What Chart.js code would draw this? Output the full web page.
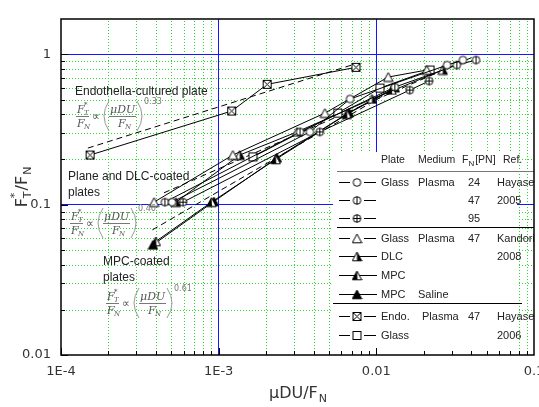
<!DOCTYPE html>
<html>
<head>
<meta charset="utf-8">
<script src="https://cdn.jsdelivr.net/npm/chart.js@4"></script>
<style>
  body { margin: 0; background: #fff; }
  canvas { display: block; }
</style>
</head>
<body>
<canvas id="chart" width="539" height="407"></canvas>
<script>
// axis ticks
const xTicks = [1e-4, 1e-3, 0.01, 0.1];
const xTickLabels = ['1E-4', '1E-3', '0.01', '0.1'];
const yTicks = [0.01, 0.1, 1];
const yTickLabels = ['0.01', '0.1', '1'];

// Glass, Plasma, Hayase 2005 (FN = 24, 47, 95 pN)
const glass24X = [5.06e-4, 3.79e-3, 6.81e-3, 0.0281, 0.0354];
const glass24Y = [0.104, 0.305, 0.505, 0.849, 0.917];
const glass47X = [4.56e-4, 3.28e-3, 0.0131, 0.0324, 0.0429];
const glass47Y = [0.104, 0.305, 0.606, 0.849, 0.917];
const glass95X = [5.94e-4, 4.38e-3, 0.0163, 0.0216];
const glass95Y = [0.104, 0.305, 0.579, 0.665];

// Kandori 2008
const kGlassX = [3.89e-4, 1.23e-3, 4.72e-3, 0.0119, 0.0209];
const kGlassY = [0.104, 0.214, 0.407, 0.707, 0.787];
const kDlcX = [5.36e-4, 1.36e-3, 3.14e-3, 9.38e-3, 0.0264];
const kDlcY = [0.104, 0.214, 0.305, 0.505, 0.787];
const kMpcX = [4.0e-4, 9.0e-4, 2.3e-3, 6.5e-3, 0.0125];
const kMpcY = [0.057, 0.104, 0.20, 0.40, 0.58];
const kSalineX = [3.83e-4, 9.33e-4, 2.34e-3, 6.7e-3, 0.0131];
const kSalineY = [0.054, 0.105, 0.205, 0.41, 0.60];

// Hayase 2006
const endoX = [1.53e-4, 1.21e-3, 2.03e-3, 7.43e-3];
const endoY = [0.214, 0.42, 0.632, 0.82];
const glass06X = [1.65e-3, 5.70e-3, 0.01055, 0.0219];
const glass06Y = [0.208, 0.407, 0.597, 0.787];

// power-law guide lines
const fitEndoX = [1.48e-4, 7.5e-3];
const fitEndoY = [0.238, 0.87];
const fitPlaneX = [4.5e-4, 0.04];
const fitPlaneY = [0.12, 0.95];
const fitMpcX = [3.8e-4, 0.0135];
const fitMpcY = [0.068, 0.60];

// legend table
const legendHeader = ['Plate', 'Medium', 'F', 'Ref.'];
const legendPlate = ['Glass', '', '', 'Glass', 'DLC', 'MPC', 'MPC', 'Endo.', 'Glass'];
const legendMedium = ['Plasma', '', '', 'Plasma', '', '', 'Saline', 'Plasma', ''];
const legendFn = ['24', '47', '95', '47', '', '', '', '47', ''];
const legendRef = ['Hayase', '2005', '', 'Kandori', '2008', '', '', 'Hayase', '2006'];
const legendMarker = ['circle', 'circleBar', 'circlePlus', 'tri', 'triR', 'triL', 'triFull', 'squareX', 'square'];

// annotations
const noteEndo = ['Endothella-cultured plate'];
const notePlane = ['Plane and DLC-coated', 'plates'];
const noteMpc = ['MPC-coated', 'plates'];
const exponents = ['0.33', '0.46', '0.61'];

function marker(kind) {
  const c = document.createElement('canvas');
  c.width = 11; c.height = 11;
  const g = c.getContext('2d');
  g.strokeStyle = '#000'; g.fillStyle = '#fff'; g.lineWidth = 1;
  if (kind.startsWith('circle')) {
    g.beginPath(); g.arc(5.5, 5.5, 3.8, 0, Math.PI * 2); g.fill(); g.stroke();
    if (kind !== 'circle') { g.beginPath(); g.moveTo(5.5, 1.7); g.lineTo(5.5, 9.3); g.stroke(); }
    if (kind === 'circlePlus') { g.beginPath(); g.moveTo(1.7, 5.5); g.lineTo(9.3, 5.5); g.stroke(); }
  } else if (kind.startsWith('tri')) {
    g.beginPath(); g.moveTo(5.5, 1); g.lineTo(10.2, 9.8); g.lineTo(0.8, 9.8); g.closePath();
    g.fillStyle = kind === 'triFull' ? '#000' : '#fff';
    g.fill(); g.stroke();
    g.fillStyle = '#000';
    if (kind === 'triR') { g.beginPath(); g.moveTo(5.5, 1); g.lineTo(10.2, 9.8); g.lineTo(5.5, 9.8); g.fill(); }
    if (kind === 'triL') { g.beginPath(); g.moveTo(5.5, 1); g.lineTo(0.8, 9.8); g.lineTo(6, 9.8); g.fill(); }
  } else {
    g.fillRect(1.5, 1.5, 8, 8); g.strokeRect(1.5, 1.5, 8, 8);
    if (kind === 'squareX') {
      g.beginPath(); g.moveTo(1.5, 1.5); g.lineTo(9.5, 9.5); g.moveTo(9.5, 1.5); g.lineTo(1.5, 9.5); g.stroke();
    }
  }
  return c;
}

const markers = {};
legendMarker.forEach(k => markers[k] = marker(k));

function pts(xs, ys) { return xs.map((x, i) => ({ x: x, y: ys[i] })); }

function series(xs, ys, kind) {
  return { data: pts(xs, ys), showLine: true, borderColor: '#000', borderWidth: 1,
           pointStyle: markers[kind], pointRadius: 4 };
}
function fit(xs, ys) {
  return { data: pts(xs, ys), showLine: true, borderColor: '#000', borderWidth: 1,
           borderDash: [6, 4], pointRadius: 0 };
}

const datasets = [
  series(glass24X, glass24Y, 'circle'),
  series(glass47X, glass47Y, 'circleBar'),
  series(glass95X, glass95Y, 'circlePlus'),
  series(kGlassX, kGlassY, 'tri'),
  series(kDlcX, kDlcY, 'triR'),
  series(kMpcX, kMpcY, 'triL'),
  series(kSalineX, kSalineY, 'triFull'),
  series(endoX, endoY, 'squareX'),
  series(glass06X, glass06Y, 'square'),
  fit(fitEndoX, fitEndoY),
  fit(fitPlaneX, fitPlaneY),
  fit(fitMpcX, fitMpcY)
];

// snap 1px coloured lines to even pixels so they keep their colour
function even(p) { return 2 * Math.round(p / 2); }

// grid lines behind the data, drawn as 1px rects
const gridPlugin = {
  id: 'grid',
  beforeDatasetsDraw(chart) {
    const { ctx, chartArea: a, scales: { x, y } } = chart;
    const top = Math.round(a.top), bot = Math.round(a.bottom);
    const left = Math.round(a.left), right = Math.round(a.right);
    ctx.save();
    ctx.fillStyle = '#2bd82b';
    for (let d = 1e-4; d < 0.1; d *= 10) {
      for (let m = 2; m < 10; m++) {
        const px = Math.round(x.getPixelForValue(d * m));
        for (let py = top + 2; py < bot; py += 3) ctx.fillRect(px, py, 1, 1);
      }
    }
    for (let d = 0.01; d < 1; d *= 10) {
      for (let m = 2; m < 10; m++) {
        const py = Math.round(y.getPixelForValue(d * m));
        for (let px = left + 2; px < right; px += 3) ctx.fillRect(px, py, 1, 1);
      }
    }
    ctx.fillStyle = '#1515ff';
    xTicks.slice(1, -1).forEach(v => {
      const px = even(x.getPixelForValue(v));
      ctx.fillRect(px, top, 1, bot - top);
    });
    yTicks.slice(1).forEach(v => {
      const py = even(y.getPixelForValue(v));
      ctx.fillRect(left, py, right - left, 1);
    });
    ctx.restore();
  }
};

function drawFormula(ctx, x0, yc, exp) {
  ctx.save();
  ctx.fillStyle = '#555';
  ctx.strokeStyle = '#555';
  ctx.lineWidth = 0.8;
  ctx.textAlign = 'left';
  ctx.textBaseline = 'alphabetic';
  const big = 'italic 11px "DejaVu Serif"';
  const small = 'italic 7px "DejaVu Serif"';
  // F*_T / F_N
  ctx.font = big; ctx.fillText('F', x0, yc - 3); ctx.fillText('F', x0, yc + 11);
  ctx.font = small; ctx.fillText('T', x0 + 7, yc - 1); ctx.fillText('*', x0 + 7, yc - 9); ctx.fillText('N', x0 + 7, yc + 13);
  ctx.beginPath(); ctx.moveTo(x0 - 1, yc + 0.5); ctx.lineTo(x0 + 12, yc + 0.5); ctx.stroke();
  ctx.font = '11px "DejaVu Sans"'; ctx.fillText('\u221d', x0 + 15, yc + 4);
  // parentheses
  ctx.strokeStyle = '#999'; ctx.lineWidth = 1;
  ctx.beginPath(); ctx.moveTo(x0 + 32, yc - 15); ctx.quadraticCurveTo(x0 + 22, yc, x0 + 32, yc + 15); ctx.stroke();
  ctx.beginPath(); ctx.moveTo(x0 + 60, yc - 15); ctx.quadraticCurveTo(x0 + 70, yc, x0 + 60, yc + 15); ctx.stroke();
  // muDU / F_N
  ctx.strokeStyle = '#555'; ctx.lineWidth = 0.8;
  ctx.font = big; ctx.fillText('\u03bcDU', x0 + 33, yc - 3); ctx.fillText('F', x0 + 41, yc + 11);
  ctx.font = small; ctx.fillText('N', x0 + 48, yc + 13);
  ctx.beginPath(); ctx.moveTo(x0 + 32, yc + 0.5); ctx.lineTo(x0 + 59, yc + 0.5); ctx.stroke();
  ctx.fillStyle = '#777'; ctx.font = '8px "DejaVu Sans"';
  ctx.fillText(exp, x0 + 67, yc - 12);
  ctx.restore();
}

const overlayPlugin = {
  id: 'overlay',
  afterDatasetsDraw(chart) {
    const { ctx, chartArea: a, scales: { x, y } } = chart;
    ctx.save();

    // legend box
    ctx.fillStyle = '#fff';
    ctx.fillRect(333, 152, 184, a.bottom - 152);
    ctx.save();
    ctx.beginPath(); ctx.rect(a.left, a.top, a.right - a.left, a.bottom - a.top); ctx.clip();
    ctx.fillStyle = '#222';
    ctx.font = '10.5px "Liberation Sans"';
    ctx.textBaseline = 'middle';
    ctx.textAlign = 'left';
    ctx.fillText(legendHeader[0], 381, 160);
    ctx.fillText(legendHeader[1], 418, 160);
    ctx.fillText(legendHeader[2], 462, 160);
    const fw = ctx.measureText('F').width;
    ctx.font = '8px "Liberation Sans"';
    ctx.fillText('N', 462 + fw, 164);
    const nw = ctx.measureText('N').width;
    ctx.font = '10.5px "Liberation Sans"';
    ctx.fillText('[PN]', 463 + fw + nw, 160);
    ctx.fillText(legendHeader[3], 503, 160);

    ctx.fillStyle = '#777';
    ctx.fillRect(337, 171, a.right - 337, 1);
    ctx.fillStyle = '#000';
    ctx.fillRect(337, 227, a.right - 337, 1);
    ctx.fillRect(333, 303, 189, 1);

    const rowY = [182, 200, 218, 238, 256, 275, 294, 316, 335];
    ctx.font = '11px "Liberation Sans"';
    legendMarker.forEach((k, i) => {
      const ry = rowY[i];
      ctx.fillStyle = '#000';
      if (k.startsWith('tri') && k !== 'tri') {
        ctx.fillRect(339, ry, 38, 1);
      } else {
        ctx.fillRect(339, ry, 11, 1);
        ctx.fillRect(364, ry, 12, 1);
      }
      ctx.drawImage(markers[k], 357 - 5.5, ry - 5);
      ctx.fillStyle = '#222';
      ctx.fillText(legendPlate[i], 381, ry + 1);
      ctx.fillText(legendMedium[i], i === 7 ? 422 : 418, ry + 1);
      ctx.fillText(legendFn[i], 468, ry + 1);
      ctx.fillText(legendRef[i], 497, ry + 1);
    });
    ctx.restore();

    // annotations
    ctx.fillStyle = '#222';
    ctx.font = '12px "Liberation Sans"';
    ctx.textAlign = 'left';
    ctx.textBaseline = 'middle';
    ctx.fillText(noteEndo[0], 75, 92);
    ctx.fillText(notePlane[0], 68, 177);
    ctx.fillText(notePlane[1], 68, 193);
    ctx.fillText(noteMpc[0], 103, 262);
    ctx.fillText(noteMpc[1], 103, 278);
    drawFormula(ctx, 77, 116, exponents[0]);
    drawFormula(ctx, 71, 223, exponents[1]);
    drawFormula(ctx, 107, 303, exponents[2]);

    // inner ticks
    ctx.fillStyle = '#000';
    for (let d = 1e-4; d < 0.1; d *= 10) {
      for (let m = 1; m < 10; m++) {
        const px = Math.round(x.getPixelForValue(d * m));
        const len = m === 1 ? 7 : 4;
        ctx.fillRect(px, a.bottom - len, 1, len);
      }
    }
    for (let d = 0.01; d < 1.5; d *= 10) {
      for (let m = 1; m < 10; m++) {
        const v = d * m;
        if (v > 1.72) break;
        const py = Math.round(y.getPixelForValue(v));
        ctx.fillRect(a.left, py, m === 1 ? 7 : 4, 1);
      }
    }
    // frame
    ctx.strokeStyle = '#000';
    ctx.lineWidth = 1.5;
    ctx.strokeRect(a.left, a.top, a.right - a.left, a.bottom - a.top);

    // tick labels
    ctx.fillStyle = '#333';
    ctx.font = '13px "DejaVu Sans"';
    ctx.textAlign = 'center';
    ctx.textBaseline = 'middle';
    xTicks.forEach((v, i) => ctx.fillText(xTickLabels[i], x.getPixelForValue(v), 372));
    ctx.textAlign = 'right';
    yTicks.forEach((v, i) => ctx.fillText(yTickLabels[i], 51, y.getPixelForValue(v)));

    // axis titles
    ctx.textAlign = 'left';
    ctx.textBaseline = 'alphabetic';
    const big = '16px "DejaVu Sans"', sub = '11px "DejaVu Sans"';
    ctx.font = big; const w1 = ctx.measureText('\u03bcDU/F').width;
    ctx.font = sub; const w2 = ctx.measureText('N').width;
    let sx = (a.left + a.right) / 2 - (w1 + w2) / 2;
    ctx.font = big; ctx.fillText('\u03bcDU/F', sx, 398);
    ctx.font = sub; ctx.fillText('N', sx + w1 + 1, 402);

    ctx.translate(27, (a.top + a.bottom) / 2);
    ctx.rotate(-Math.PI / 2);
    ctx.font = big; const fW = ctx.measureText('F').width; const sW = ctx.measureText('/F').width;
    ctx.font = sub; const tW = ctx.measureText('T').width; const nW = ctx.measureText('N').width;
    const total = fW + tW + sW + nW + 2;
    sx = -total / 2;
    ctx.font = big; ctx.fillText('F', sx, 0);
    ctx.font = sub; ctx.fillText('*', sx + fW, -9); ctx.fillText('T', sx + fW, 4);
    ctx.font = big; ctx.fillText('/F', sx + fW + tW + 1, 0);
    ctx.font = sub; ctx.fillText('N', sx + fW + tW + sW + 2, 4);
    ctx.restore();
  }
};

new Chart(document.getElementById('chart').getContext('2d'), {
  type: 'scatter',
  data: { datasets: datasets },
  options: {
    responsive: false,
    animation: false,
    layout: { padding: { left: 61, right: 5, top: 19, bottom: 52 } },
    scales: {
      x: { type: 'logarithmic', min: 1e-4, max: 0.1, display: false },
      y: { type: 'logarithmic', min: 0.01, max: 1.72, display: false }
    },
    plugins: { legend: { display: false }, tooltip: { enabled: false } }
  },
  plugins: [gridPlugin, overlayPlugin]
});
</script>
</body>
</html>
